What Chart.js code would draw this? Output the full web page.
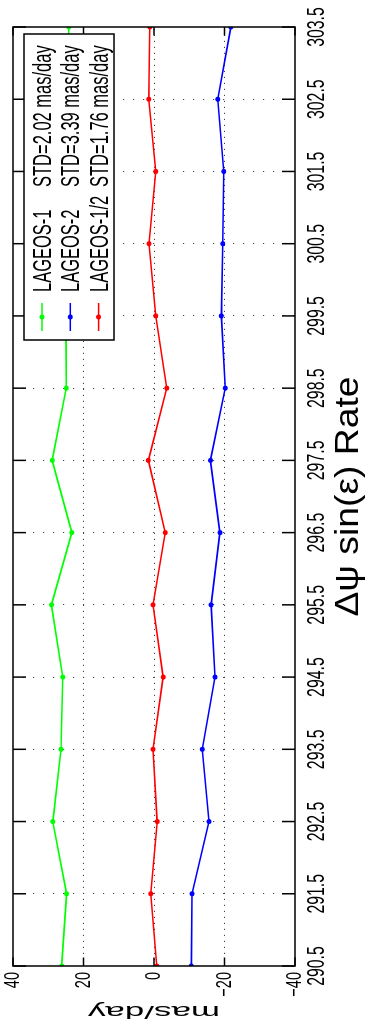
<!DOCTYPE html>
<html>
<head>
<meta charset="utf-8">
<script src="https://cdn.jsdelivr.net/npm/chart.js@4.4.1/dist/chart.umd.min.js"></script>
<style>
  html, body { margin: 0; padding: 0; background: #fff; width: 366px; height: 1034px; overflow: hidden; }
  /* the figure is laid out landscape and turned a quarter turn counter-clockwise */
  #frame { position: absolute; left: 0; top: 1034px; width: 1034px; height: 366px;
           transform-origin: 0 0; transform: rotate(-90deg); }
  canvas { display: block; }
</style>
</head>
<body>
<div id="frame"><canvas id="chart" width="1034" height="366"></canvas></div>
<script>
// ---- data -------------------------------------------------------------
const epochs   = [290.5, 291.5, 292.5, 293.5, 294.5, 295.5, 296.5, 297.5, 298.5, 299.5, 300.5, 301.5, 302.5, 303.5];
const lageos1  = [26.2, 24.8, 28.7, 26.4, 25.9, 29.1, 23.3, 28.9, 24.9, 25.0, 24.6, 25.2, 24.5, 24.2];
const lageos2  = [-10.6, -10.8, -15.6, -13.7, -17.3, -16.2, -18.7, -16.0, -20.2, -19.1, -19.5, -19.8, -18.1, -21.8];
const lageos12 = [-0.8, 0.9, -0.9, 0.3, -2.6, 0.3, -3.2, 1.6, -3.6, -0.5, 1.4, -0.5, 1.5, 1.2];

const xTicks = [290.5, 291.5, 292.5, 293.5, 294.5, 295.5, 296.5, 297.5, 298.5, 299.5, 300.5, 301.5, 302.5, 303.5];
const yTicks = [-40, -20, 0, 20, 40];

const seriesNames  = ['LAGEOS-1', 'LAGEOS-2', 'LAGEOS-1/2'];
const seriesStd    = ['STD=2.02 mas/day', 'STD=3.39 mas/day', 'STD=1.76 mas/day'];
const seriesColors = ['#00ff00', '#0000ff', '#ff0000'];
const xTitle = 'Δψ sin(ε) Rate';
const yTitle = 'mas/day';

// ---- helpers ----------------------------------------------------------
const FONT = '"Liberation Sans", Arial, Helvetica, sans-serif';

function text(ctx, str, x, y, size, stretch, rot, align, base) {
  ctx.save();
  ctx.translate(x, y);
  ctx.rotate(rot);
  ctx.scale(stretch, 1);
  ctx.font = size + 'px ' + FONT;
  ctx.fillStyle = '#000';
  ctx.textAlign = align;
  ctx.textBaseline = base;
  ctx.fillText(str, 0, 0);
  ctx.restore();
}

function seg(ctx, x1, y1, x2, y2) {
  ctx.beginPath();
  ctx.moveTo(x1, y1);
  ctx.lineTo(x2, y2);
  ctx.stroke();
}

const fmtTick = v => String(v).replace('-', '\u2212');

// box, inward ticks, tick labels, axis titles and the legend panel
const frameDecor = {
  id: 'frameDecor',
  afterDraw(chart) {
    const { ctx, chartArea: a, scales: { x, y } } = chart;
    ctx.save();
    ctx.strokeStyle = '#000';
    ctx.lineWidth = 1.5;
    ctx.strokeRect(a.left, a.top, a.right - a.left, a.bottom - a.top);

    x.ticks.forEach(t => {
      const px = x.getPixelForValue(t.value);
      seg(ctx, px, a.bottom, px, a.bottom - 13);
      seg(ctx, px, a.top, px, a.top + 13);
      text(ctx, t.value.toFixed(1), px, 324, 24, 0.66, 0, 'center', 'alphabetic');
    });
    y.ticks.forEach(t => {
      const py = y.getPixelForValue(t.value);
      seg(ctx, a.left, py, a.left + 8.5, py);
      seg(ctx, a.right, py, a.right - 8.5, py);
      text(ctx, fmtTick(t.value), 62, py, 22, 0.66, 0, 'right', 'middle');
    });

    text(ctx, xTitle, (a.left + a.right) / 2, 358, 33, 1.13, 0, 'center', 'alphabetic');
    text(ctx, yTitle, 23, (a.top + a.bottom) / 2, 19, 1.84, -Math.PI / 2, 'center', 'middle');

    // legend panel
    const L = { left: 694, right: 1000, top: 24, bottom: 114 };
    ctx.fillStyle = '#fff';
    ctx.fillRect(L.left, L.top, L.right - L.left, L.bottom - L.top);
    ctx.strokeStyle = '#000';
    ctx.lineWidth = 1.5;
    ctx.strokeRect(L.left, L.top, L.right - L.left, L.bottom - L.top);
    seriesNames.forEach((name, i) => {
      const cy = 42 + i * 28.3;
      ctx.strokeStyle = seriesColors[i];
      ctx.fillStyle = seriesColors[i];
      ctx.lineWidth = 1.5;
      seg(ctx, 703, cy, 731, cy);
      ctx.beginPath();
      ctx.arc(717, cy, 2.5, 0, Math.PI * 2);
      ctx.fill();
      text(ctx, name, 742, cy + 9, 25, 0.66, 0, 'left', 'alphabetic');
      text(ctx, seriesStd[i], 847, cy + 9, 25, 0.66, 0, 'left', 'alphabetic');
    });
    ctx.restore();
  }
};

const edgeFree = (scaleMin, scaleMax, color) => c =>
  (c.tick && (c.tick.value === scaleMin || c.tick.value === scaleMax)) ? 'rgba(0,0,0,0)' : color;

const mkSet = (label, values, color) => ({
  label,
  data: epochs.map((e, i) => ({ x: e, y: values[i] })),
  borderColor: color,
  backgroundColor: color,
  borderWidth: 1.6,
  pointRadius: 2.5,
  pointBorderWidth: 0,
  pointBackgroundColor: color,
  tension: 0,
  fill: false
});

new Chart(document.getElementById('chart'), {
  type: 'line',
  data: {
    datasets: [
      mkSet(seriesNames[0], lageos1, seriesColors[0]),
      mkSet(seriesNames[1], lageos2, seriesColors[1]),
      mkSet(seriesNames[2], lageos12, seriesColors[2])
    ]
  },
  options: {
    responsive: false,
    animation: false,
    devicePixelRatio: 1,
    layout: { padding: { left: 68, right: 27, top: 13, bottom: 71 } },
    plugins: { legend: { display: false }, tooltip: { enabled: false } },
    scales: {
      x: {
        type: 'linear',
        min: xTicks[0],
        max: xTicks[xTicks.length - 1],
        afterBuildTicks: s => { s.ticks = xTicks.map(v => ({ value: v })); },
        afterFit: s => { s.height = 0; },
        ticks: { display: false },
        grid: { drawTicks: false, lineWidth: 1, color: edgeFree(xTicks[0], xTicks[xTicks.length - 1], '#444') },
        border: { display: false, dash: [1.2, 8.8] }
      },
      y: {
        type: 'linear',
        min: yTicks[0],
        max: yTicks[yTicks.length - 1],
        afterBuildTicks: s => { s.ticks = yTicks.map(v => ({ value: v })); },
        afterFit: s => { s.width = 0; },
        ticks: { display: false },
        grid: { drawTicks: false, lineWidth: 1, color: edgeFree(yTicks[0], yTicks[yTicks.length - 1], '#444') },
        border: { display: false, dash: [1.2, 4.8] }
      }
    }
  },
  plugins: [frameDecor]
});
</script>
</body>
</html>
